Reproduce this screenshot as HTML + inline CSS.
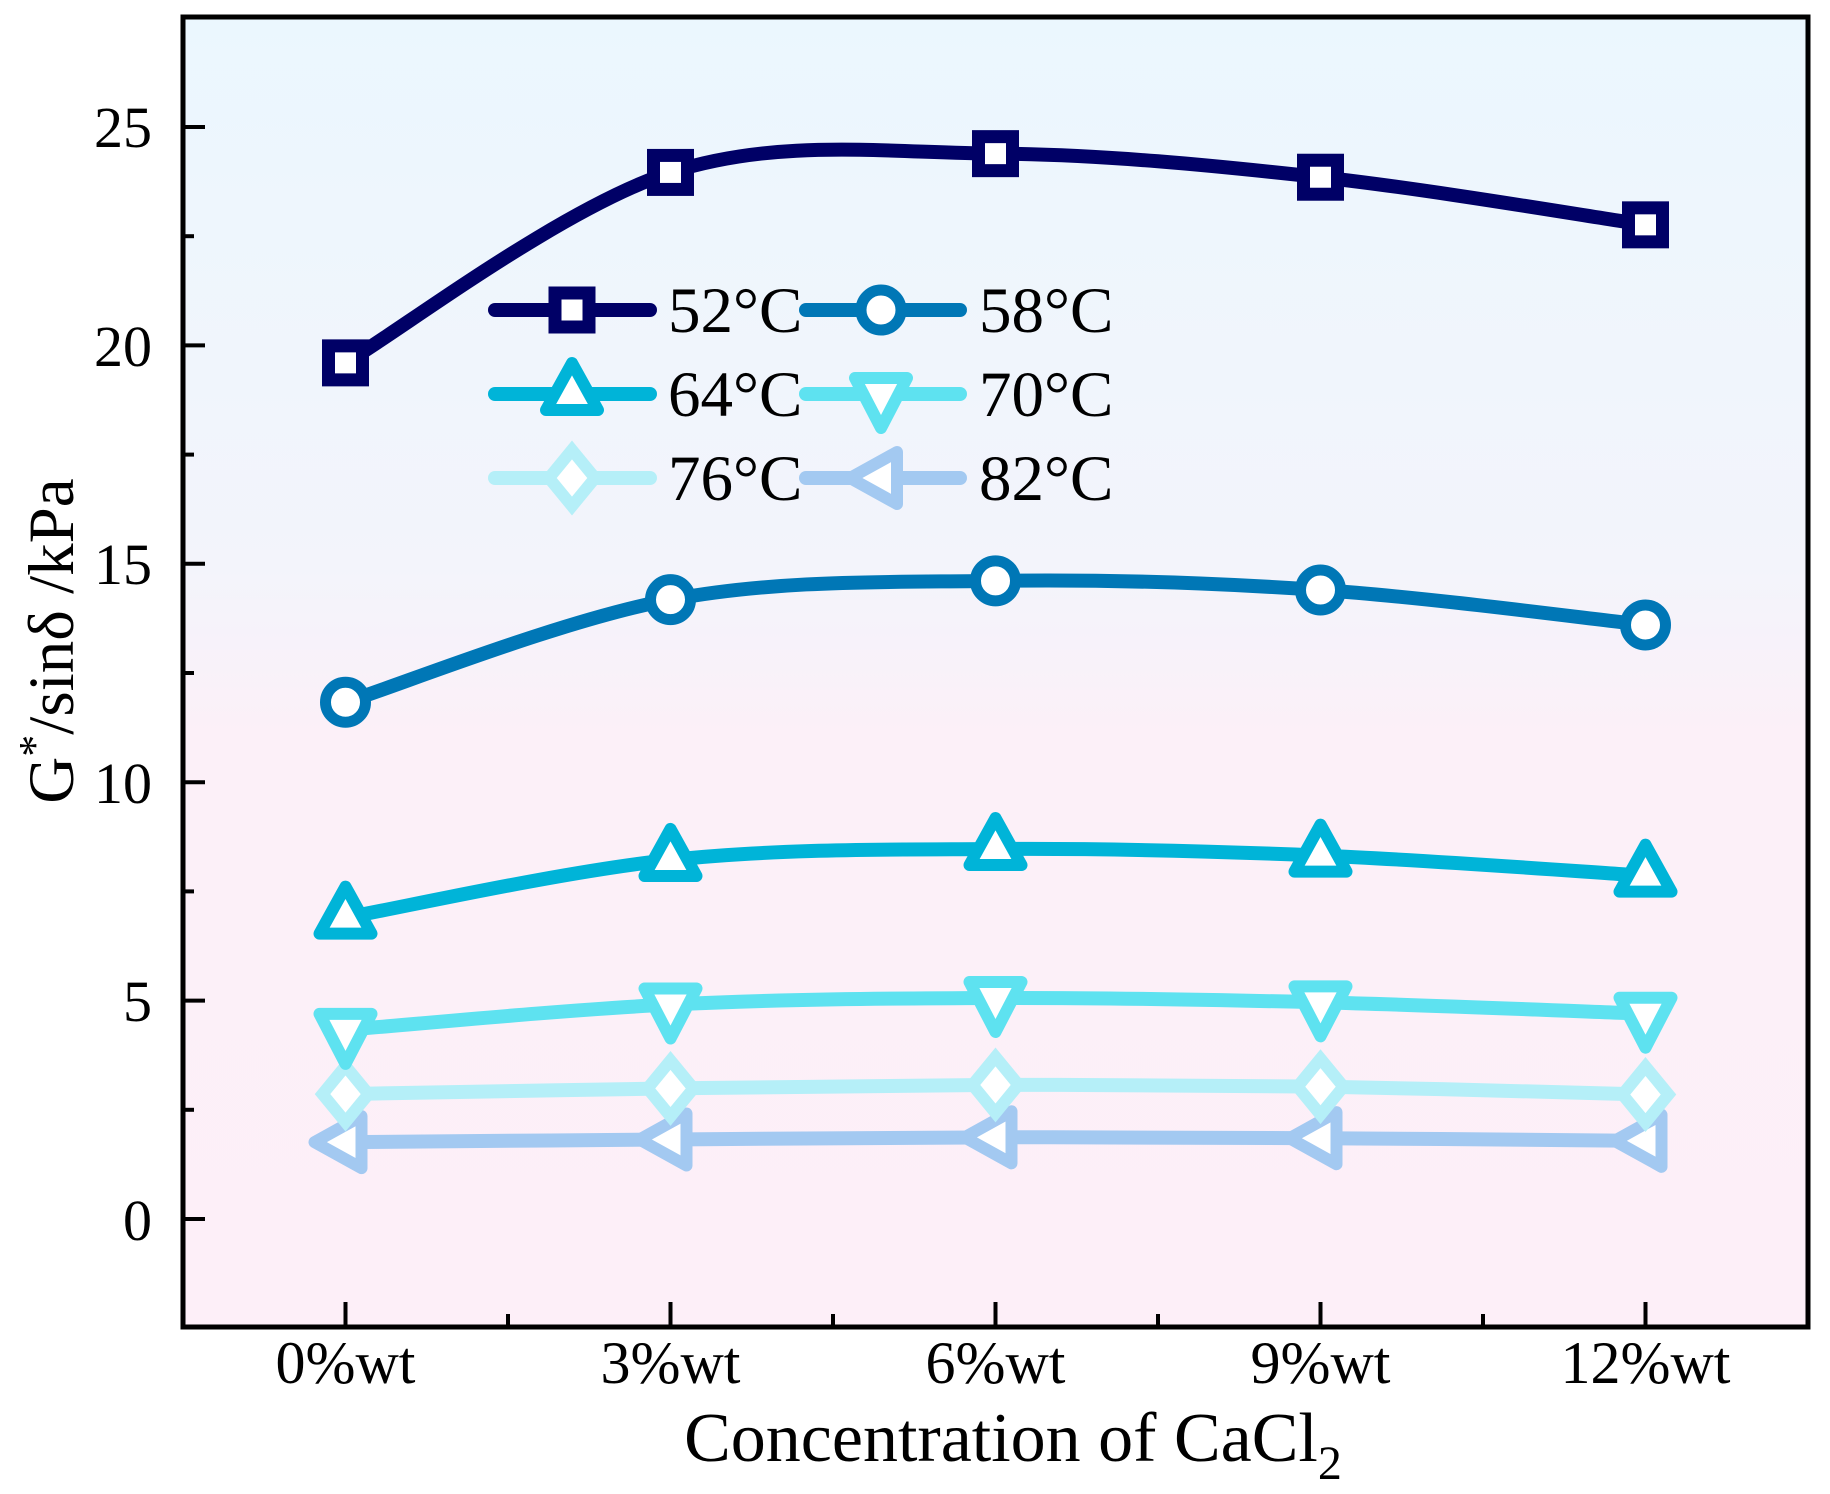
<!DOCTYPE html>
<html><head><meta charset="utf-8"><style>
html,body{margin:0;padding:0;background:#fff}
svg{display:block}
text{font-family:"Liberation Serif",serif;fill:#000}
</style></head><body>
<svg id="s" width="1830" height="1494" viewBox="0 0 1830 1494" xmlns="http://www.w3.org/2000/svg">
<defs>
<linearGradient id="bg" x1="0" y1="0" x2="0" y2="1">
<stop offset="0" stop-color="#ebf7fe"/>
<stop offset="0.42" stop-color="#f3f4fb"/>
<stop offset="0.55" stop-color="#fcf0f8"/>
<stop offset="1" stop-color="#fdeff8"/>
</linearGradient>
</defs>
<rect x="183" y="17" width="1625" height="1310" fill="url(#bg)"/>
<g id="ticks" stroke="#000" stroke-width="4"></g>
<g id="series"></g>
<rect x="183" y="17" width="1625" height="1310" fill="none" stroke="#000" stroke-width="5"/>
<g font-size="58" text-anchor="end">
<text x="152" y="147">25</text>
<text x="152" y="366">20</text>
<text x="152" y="584">15</text>
<text x="152" y="803">10</text>
<text x="152" y="1021">5</text>
<text x="152" y="1240">0</text>
</g>
<g font-size="60" text-anchor="middle">
<text x="345.5" y="1383">0%wt</text>
<text x="670.5" y="1383">3%wt</text>
<text x="995.5" y="1383">6%wt</text>
<text x="1320.5" y="1383">9%wt</text>
<text x="1645.5" y="1383">12%wt</text>
</g>
<text x="1013" y="1461" font-size="70" text-anchor="middle">Concentration of CaCl<tspan font-size="48" dy="18">2</tspan></text>
<text transform="translate(73,641) rotate(-90)" font-size="65" text-anchor="middle">G<tspan font-size="44" dy="-24">*</tspan><tspan dy="24">/sinδ /kPa</tspan></text>
<g id="legend"></g>
</svg>
<script>
var NS="http://www.w3.org/2000/svg";
function el(t,a,p){var e=document.createElementNS(NS,t);for(var k in a)e.setAttribute(k,a[k]);p.appendChild(e);return e;}
var X=[345.5,670.5,995.5,1320.5,1645.5];
function Y(v){return 1219-43.68*v;}
var tk=document.getElementById('ticks');
for(var i=0;i<5;i++){el('line',{x1:X[i],y1:1327,x2:X[i],y2:1302},tk);}
for(var i=0;i<5;i++){var xm=X[i]+162.5;if(xm<1805)el('line',{x1:xm,y1:1327,x2:xm,y2:1314},tk);}
for(var v=-2.5;v<=27.5;v+=2.5){var y=Y(v);if(y<20||y>1324)continue;var maj=Math.abs(v%5)<0.01;el('line',{x1:183,y1:y,x2:maj?205:194,y2:y},tk);}
var S=[
{c:"#000066",m:"sq",v:[19.6,23.96,24.39,23.85,22.76]},
{c:"#0077b6",m:"ci",v:[11.83,14.18,14.61,14.40,13.60]},
{c:"#00b4d8",m:"tu",v:[6.9,8.22,8.47,8.32,7.86]},
{c:"#5ee2f0",m:"td",v:[4.33,4.91,5.06,4.96,4.70]},
{c:"#b5eff8",m:"di",v:[2.86,2.99,3.07,3.03,2.85]},
{c:"#a3c9f1",m:"tl",v:[1.76,1.82,1.87,1.85,1.79]}];
function path(P){var d="M"+P[0][0]+","+P[0][1];for(var i=0;i<P.length-1;i++){var p0=P[i-1]||P[i],p1=P[i],p2=P[i+1],p3=P[i+2]||P[i+1];
var c1=[p1[0]+(p2[0]-p0[0])/6,p1[1]+(p2[1]-p0[1])/6],c2=[p2[0]-(p3[0]-p1[0])/6,p2[1]-(p3[1]-p1[1])/6];
d+=" C"+c1+" "+c2+" "+p2;}return d;}
function marker(m,x,y,c,g){var a={fill:"#fff",stroke:c,"stroke-width":12,"stroke-linejoin":"miter"};
if(m=="sq"){a.x=x-17;a.y=y-17;a.width=34;a.height=34;a["stroke-width"]=13;el('rect',a,g);}
else if(m=="ci"){a.cx=x;a.cy=y;a.r=20;a["stroke-width"]=11;el('circle',a,g);}
else if(m=="tu"){a.points=[x,y-31,x+26,y+16,x-26,y+16].join(" ");a["stroke-linejoin"]="round";el('polygon',a,g);}
else if(m=="td"){a.points=[x-26,y-16,x+26,y-16,x,y+34].join(" ");a["stroke-linejoin"]="round";el('polygon',a,g);}
else if(m=="di"){a.points=[x,y-28,x+23,y,x,y+28,x-23,y].join(" ");el('polygon',a,g);}
else if(m=="tl"){a.points=[x-31,y,x+16,y-26,x+16,y+26].join(" ");a["stroke-linejoin"]="round";el('polygon',a,g);}}
var sg=document.getElementById('series');
S.slice().reverse().forEach(function(s){var P=s.v.map(function(v,i){return [X[i],Y(v)];});
el('path',{d:path(P),fill:"none",stroke:s.c,"stroke-width":14,"stroke-linecap":"round"},sg);
P.forEach(function(p){marker(s.m,p[0],p[1],s.c,sg);});});
var lg=document.getElementById('legend');
var labs=["52°C","58°C","64°C","70°C","76°C","82°C"];
var rows=[310,394,478],cols=[[495,650,572,668],[806,960,881,979]];
for(var i=0;i<6;i++){var r=rows[Math.floor(i/2)],c=cols[i%2],s=S[i];
el('line',{x1:c[0],y1:r,x2:c[1],y2:r,stroke:s.c,"stroke-width":14,"stroke-linecap":"round"},lg);
marker(s.m,c[2],r,s.c,lg);
var t=el('text',{x:c[3],y:r+22,"font-size":65},lg);t.textContent=labs[i];}
</script>
</body></html>
